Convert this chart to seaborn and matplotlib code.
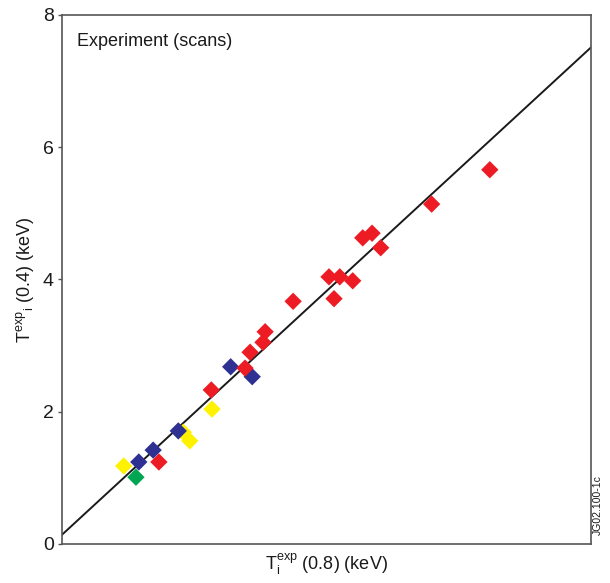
import matplotlib
matplotlib.use("Agg")
import matplotlib.pyplot as plt
import seaborn as sns
import pandas as pd

# Data
yellow_x = [1.00, 1.83, 1.92, 2.23]
yellow_y = [1.18, 1.69, 1.56, 2.04]
blue_x = [1.21, 1.41, 1.76, 2.49, 2.79]
blue_y = [1.24, 1.42, 1.71, 2.68, 2.53]
red_x = [1.49, 2.22, 2.69, 2.76, 2.94, 2.97, 3.36, 3.86, 4.01, 4.19, 3.93,
         4.33, 4.46, 4.58, 5.29, 6.10]
red_y = [1.24, 2.33, 2.66, 2.90, 3.05, 3.21, 3.67, 4.04, 4.04, 3.98, 3.71,
         4.63, 4.70, 4.48, 5.14, 5.66]
green_x = [1.17]
green_y = [1.01]

y_ticks = [0, 2, 4, 6, 8]
x_limits = [0.14, 7.51]
y_limits = [0, 8]

groups = ["yellow", "blue", "red", "green"]
colors = {"yellow": "#FFF200", "blue": "#2E3192", "red": "#ED1C24", "green": "#00A651"}

frames = []
for name, xs, ys in [("yellow", yellow_x, yellow_y), ("blue", blue_x, blue_y),
                     ("red", red_x, red_y), ("green", green_x, green_y)]:
    frames.append(pd.DataFrame({"x": xs, "y": ys, "group": name}))
df = pd.concat(frames, ignore_index=True)

sns.set_style("white")
plt.rcParams["font.family"] = ["Liberation Sans", "DejaVu Sans"]
plt.rcParams["mathtext.fontset"] = "custom"
plt.rcParams["mathtext.rm"] = "Liberation Sans"
plt.rcParams["mathtext.it"] = "Liberation Sans"

fig = plt.figure(figsize=(6.10, 5.83), dpi=100)
ax = fig.add_axes([62 / 610, 39 / 583, 529 / 610, 529 / 583])

ax.axline((0, 0), slope=1, color="#1a1a1a", lw=1.4, zorder=1)

sns.scatterplot(data=df, x="x", y="y", hue="group", palette=colors,
                hue_order=groups, marker="D", s=78, linewidth=0,
                legend=False, ax=ax, zorder=3)

ax.set_xlim(*x_limits)
ax.set_ylim(*y_limits)
ax.set_yticks(y_ticks)
ax.set_yticklabels([str(t) for t in y_ticks], fontsize=14, color="#1a1a1a")
ax.set_xticks([])
ax.tick_params(axis="y", left=True, length=3, width=1, color="#555555", pad=3)

for sp in ax.spines.values():
    sp.set_color("#555555")
    sp.set_linewidth(1.2)

ax.set_xlabel(r"T$_{\mathrm{i}}^{\mathrm{exp}}$ (0.8) (keV)", fontsize=13,
              color="#1a1a1a", labelpad=6)
ax.set_ylabel(r"T$^{\mathrm{exp}}{}_{\mathrm{i}}$ (0.4) (keV)", fontsize=13,
              color="#1a1a1a", labelpad=5)

ax.text(0.028, 0.95, "Experiment (scans)", transform=ax.transAxes,
        fontsize=13, color="#1a1a1a", ha="left", va="center")

fig.text(598 / 610, 1 - 505 / 583, "JG02.100-1c", rotation=90, fontsize=7.5,
         ha="center", va="center", color="#1a1a1a")

fig.savefig("out.png", dpi=100)
